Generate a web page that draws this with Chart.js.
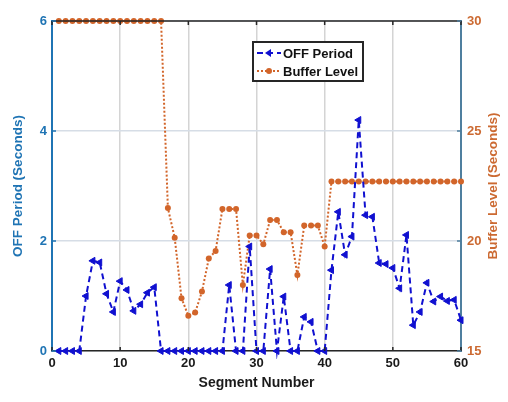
<!DOCTYPE html>
<html lang="en">
<head>
<meta charset="UTF-8">
<title>OFF Period and Buffer Level</title>
<script src="https://cdn.jsdelivr.net/npm/chart.js"></script>
<style>
  body { margin: 0; padding: 0; background: #ffffff; }
  #wrap { width: 508px; height: 402px; }
</style>
</head>
<body>
<div id="wrap"><canvas id="chart" width="508" height="402"></canvas></div>
<script>
const segments = [1, 2, 3, 4, 5, 6, 7, 8, 9, 10, 11, 12, 13, 14, 15, 16, 17, 18, 19, 20,
  21, 22, 23, 24, 25, 26, 27, 28, 29, 30, 31, 32, 33, 34, 35, 36, 37, 38, 39, 40,
  41, 42, 43, 44, 45, 46, 47, 48, 49, 50, 51, 52, 53, 54, 55, 56, 57, 58, 59, 60];

// OFF period, seconds (left axis)
const offPeriod = [0, 0, 0, 0, 1.0, 1.64, 1.61, 1.04, 0.71, 1.27, 1.11, 0.73, 0.85, 1.06, 1.16,
  0, 0, 0, 0, 0, 0, 0, 0, 0, 0,
  1.2, 0, 0, 1.9, 0, 0, 1.49, 0, 0.99, 0, 0, 0.62, 0.53, 0, 0,
  1.47, 2.53, 1.75, 2.08, 4.2, 2.47, 2.44, 1.6, 1.58, 1.51, 1.14, 2.11, 0.47, 0.71, 1.24,
  0.9, 0.99, 0.91, 0.93, 0.56];

// buffer level, seconds (right axis)
const bufferLevel = [30, 30, 30, 30, 30, 30, 30, 30, 30, 30, 30, 30, 30, 30, 30, 30,
  21.5, 20.15, 17.4, 16.6, 16.75, 17.7, 19.2, 19.55, 21.45, 21.45, 21.45, 18.0,
  20.25, 20.25, 19.85, 20.95, 20.95, 20.4, 20.4, 18.45, 20.7, 20.7, 20.7, 19.75,
  22.7, 22.7, 22.7, 22.7, 22.7, 22.7, 22.7, 22.7, 22.7, 22.7,
  22.7, 22.7, 22.7, 22.7, 22.7, 22.7, 22.7, 22.7, 22.7, 22.7];

const leftTicks = [0, 2, 4, 6];
const rightTicks = [15, 20, 25, 30];
const xTicks = [0, 10, 20, 30, 40, 50, 60];

const blue = '#1010d0';
const orange = '#d2652a';
const leftColor = '#1f74b4';
const rightColor = '#cc6a32';
const font = 'Liberation Sans, Arial, sans-serif';

// box, inner tick marks, right label and legend drawn like the matlab figure
const boxPlugin = {
  id: 'boxPlugin',
  afterDraw(chart) {
    const { ctx, chartArea: a, scales } = chart;
    ctx.save();
    ctx.strokeStyle = '#262626';
    ctx.lineWidth = 1.5;
    ctx.beginPath();
    ctx.moveTo(a.left, a.top);
    ctx.lineTo(a.right, a.top);
    xTicks.forEach(t => {
      const px = scales.x.getPixelForValue(t);
      ctx.moveTo(px, a.top);
      ctx.lineTo(px, a.top + 4);
      ctx.moveTo(px, a.bottom);
      ctx.lineTo(px, a.bottom - 4);
    });
    ctx.stroke();
    ctx.strokeStyle = leftColor;
    ctx.beginPath();
    leftTicks.forEach(t => {
      const py = scales.y.getPixelForValue(t);
      ctx.moveTo(a.left, py);
      ctx.lineTo(a.left + 4, py);
    });
    ctx.stroke();
    ctx.strokeStyle = '#4f7f9f';
    ctx.beginPath();
    rightTicks.forEach(t => {
      const py = scales.y1.getPixelForValue(t);
      ctx.moveTo(a.right, py);
      ctx.lineTo(a.right - 4, py);
    });
    ctx.stroke();

    // right axis title reads bottom to top
    ctx.save();
    ctx.translate(493, (a.top + a.bottom) / 2);
    ctx.rotate(-Math.PI / 2);
    ctx.fillStyle = rightColor;
    ctx.font = 'bold 13.5px ' + font;
    ctx.textAlign = 'center';
    ctx.textBaseline = 'middle';
    ctx.fillText('Buffer Level (Seconds)', 0, 0);
    ctx.restore();

    // legend
    const lx = 253, ly = 42, lw = 110, lh = 39;
    ctx.fillStyle = '#ffffff';
    ctx.fillRect(lx, ly, lw, lh);
    ctx.strokeStyle = '#262626';
    ctx.lineWidth = 2;
    ctx.strokeRect(lx, ly, lw, lh);

    const row1 = ly + 11, row2 = ly + 29;
    ctx.lineWidth = 2;
    ctx.strokeStyle = blue;
    ctx.setLineDash([6, 4]);
    ctx.beginPath();
    ctx.moveTo(lx + 4, row1);
    ctx.lineTo(lx + 28, row1);
    ctx.stroke();
    ctx.setLineDash([]);
    ctx.fillStyle = blue;
    ctx.beginPath();
    ctx.moveTo(lx + 12, row1);
    ctx.lineTo(lx + 18, row1 - 4);
    ctx.lineTo(lx + 18, row1 + 4);
    ctx.closePath();
    ctx.fill();

    ctx.strokeStyle = orange;
    ctx.setLineDash([2, 2]);
    ctx.beginPath();
    ctx.moveTo(lx + 4, row2);
    ctx.lineTo(lx + 28, row2);
    ctx.stroke();
    ctx.setLineDash([]);
    ctx.fillStyle = orange;
    ctx.beginPath();
    ctx.arc(lx + 16, row2, 3, 0, Math.PI * 2);
    ctx.fill();

    ctx.fillStyle = '#111111';
    ctx.font = 'bold 13px ' + font;
    ctx.textBaseline = 'middle';
    ctx.fillText('OFF Period', lx + 30, row1 + 1);
    ctx.fillText('Buffer Level', lx + 30, row2 + 1);
    ctx.restore();
  }
};

new Chart(document.getElementById('chart'), {
  type: 'line',
  data: {
    datasets: [
      {
        label: 'OFF Period',
        data: segments.map((s, i) => ({ x: s, y: offPeriod[i] })),
        yAxisID: 'y',
        borderColor: blue,
        backgroundColor: blue,
        borderWidth: 2,
        borderDash: [6, 4],
        pointStyle: 'triangle',
        rotation: -90,
        pointRadius: 4,
        pointBorderWidth: 1,
        tension: 0,
        clip: 8,
        order: 1
      },
      {
        label: 'Buffer Level',
        data: segments.map((s, i) => ({ x: s, y: bufferLevel[i] })),
        yAxisID: 'y1',
        borderColor: orange,
        backgroundColor: orange,
        borderWidth: 2,
        borderDash: [2, 2],
        pointStyle: 'circle',
        pointRadius: 3,
        pointBorderWidth: 0,
        tension: 0,
        clip: 8,
        order: 2
      }
    ]
  },
  options: {
    responsive: false,
    animation: false,
    layout: { padding: { top: 21, left: 0, right: 0, bottom: 0 } },
    plugins: {
      legend: { display: false },
      tooltip: { enabled: false }
    },
    scales: {
      x: {
        type: 'linear',
        min: 0, max: 60,
        afterFit: s => { s.height = 51; },
        afterBuildTicks: s => { s.ticks = xTicks.map(v => ({ value: v })); },
        ticks: { color: '#1a1a1a', font: { family: font, size: 13, weight: 'bold' }, padding: 5 },
        grid: { color: '#d4d4d4', lineWidth: 1.5, drawTicks: false },
        border: { color: '#262626', width: 1.5 },
        title: {
          display: true, text: 'Segment Number', color: '#1a1a1a',
          font: { family: font, size: 14, weight: 'bold' }, padding: { top: 0, bottom: 10 }
        }
      },
      y: {
        type: 'linear', position: 'left',
        min: 0, max: 6,
        afterFit: s => { s.width = 52; },
        afterBuildTicks: s => { s.ticks = leftTicks.map(v => ({ value: v })); },
        ticks: { color: leftColor, font: { family: font, size: 13, weight: 'bold' }, padding: 5 },
        grid: { color: '#d6dde6', lineWidth: 1.5, drawTicks: false },
        border: { color: leftColor, width: 2 },
        title: {
          display: true, text: 'OFF Period (Seconds)', color: leftColor,
          font: { family: font, size: 13.5, weight: 'bold' }, padding: { top: 10, bottom: 0 }
        }
      },
      y1: {
        type: 'linear', position: 'right',
        min: 15, max: 30,
        afterFit: s => { s.width = 47; },
        afterBuildTicks: s => { s.ticks = rightTicks.map(v => ({ value: v })); },
        ticks: { color: rightColor, font: { family: font, size: 13, weight: 'bold' }, padding: 6 },
        grid: { drawOnChartArea: false, drawTicks: false },
        border: { color: '#4f7f9f', width: 2 }
      }
    }
  },
  plugins: [boxPlugin]
});
</script>
</body>
</html>
